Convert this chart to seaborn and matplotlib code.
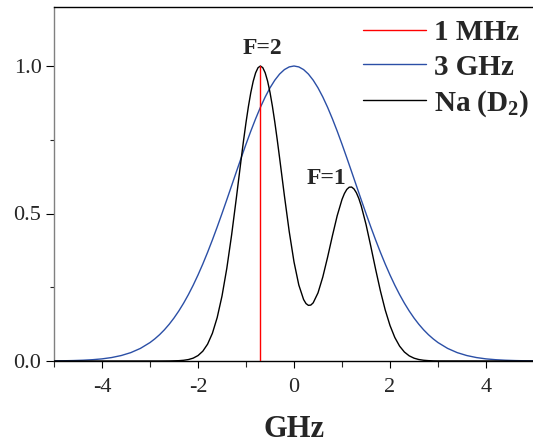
import numpy as np
import pandas as pd
import matplotlib
matplotlib.use("Agg")
import matplotlib.pyplot as plt
import seaborn as sns
from matplotlib.ticker import MultipleLocator

# ---- data ----
# Doppler profile, 3 GHz FWHM (blue)
doppler_x = [-5.0, -4.8, -4.6, -4.4, -4.2, -4.0, -3.8, -3.6, -3.4, -3.2, -3.0,
             -2.9, -2.8, -2.7, -2.6, -2.5, -2.4, -2.3, -2.2, -2.1, -2.0,
             -1.9, -1.8, -1.7, -1.6, -1.5, -1.4, -1.3, -1.2, -1.1, -1.0,
             -0.9, -0.8, -0.7, -0.6, -0.5, -0.4, -0.3, -0.2, -0.1, 0.0,
             0.1, 0.2, 0.3, 0.4, 0.5, 0.6, 0.7, 0.8, 0.9, 1.0,
             1.1, 1.2, 1.3, 1.4, 1.5, 1.6, 1.7, 1.8, 1.9, 2.0,
             2.1, 2.2, 2.3, 2.4, 2.5, 2.6, 2.7, 2.8, 2.9, 3.0,
             3.2, 3.4, 3.6, 3.8, 4.0, 4.2, 4.4, 4.6, 4.8, 5.0]
doppler_y = [0.0005, 0.0008, 0.0015, 0.0026, 0.0044, 0.0072, 0.0117, 0.0185, 0.0284, 0.0427, 0.0625,
             0.0750, 0.0893, 0.1058, 0.1246, 0.1458, 0.1696, 0.1960, 0.2251, 0.2570, 0.2916,
             0.3288, 0.3685, 0.4105, 0.4544, 0.5000, 0.5467, 0.5942, 0.6417, 0.6888, 0.7349,
             0.7792, 0.8210, 0.8599, 0.8950, 0.9259, 0.9519, 0.9727, 0.9878, 0.9969, 1.0000,
             0.9969, 0.9878, 0.9727, 0.9519, 0.9259, 0.8950, 0.8599, 0.8210, 0.7792, 0.7349,
             0.6888, 0.6417, 0.5942, 0.5467, 0.5000, 0.4544, 0.4105, 0.3685, 0.3288, 0.2916,
             0.2570, 0.2251, 0.1960, 0.1696, 0.1458, 0.1246, 0.1058, 0.0893, 0.0750, 0.0625,
             0.0427, 0.0284, 0.0185, 0.0117, 0.0072, 0.0044, 0.0026, 0.0015, 0.0008, 0.0005]

# Na D2 hyperfine profile (black)
na_x = [-5.0, -2.8, -2.6, -2.4, -2.3, -2.2, -2.1, -2.0, -1.9, -1.8, -1.7, -1.6, -1.5,
        -1.4, -1.3, -1.2, -1.15, -1.1, -1.05, -1.0, -0.95, -0.9, -0.85, -0.8, -0.75, -0.7,
        -0.65, -0.6, -0.55, -0.5, -0.45, -0.4, -0.35, -0.3,
        -0.2, -0.1, 0.0, 0.1, 0.2, 0.25, 0.3, 0.35, 0.4, 0.5, 0.6, 0.7, 0.8, 0.9,
        1.0, 1.05, 1.1, 1.15, 1.2, 1.25, 1.3, 1.35, 1.4, 1.5, 1.6, 1.7, 1.8, 1.9, 2.0, 2.1,
        2.2, 2.3, 2.4, 2.5, 2.6, 2.7, 2.8, 2.9, 3.0, 5.0]
na_y = [0.0, 0.0, 0.0002, 0.0011, 0.0024, 0.0049, 0.0097, 0.0184, 0.0332, 0.0572, 0.0940, 0.1474, 0.2202,
        0.3140, 0.4270, 0.5538, 0.6196, 0.6851, 0.7486, 0.8083, 0.8626, 0.9098, 0.9482, 0.9766, 0.9941, 1.0000,
        0.9943, 0.9769, 0.9487, 0.9106, 0.8637, 0.8099, 0.7509, 0.6884,
        0.5603, 0.4393, 0.3359, 0.2577, 0.2083, 0.1947, 0.1886, 0.1896, 0.1972, 0.2310, 0.2848, 0.3519, 0.4243, 0.4926,
        0.5476, 0.5676, 0.5817, 0.5891, 0.5897, 0.5832, 0.5702, 0.5511, 0.5262, 0.4632, 0.3888, 0.3113, 0.2378, 0.1732, 0.1204, 0.0798,
        0.0504, 0.0304, 0.0175, 0.0096, 0.0050, 0.0025, 0.0012, 0.0005, 0.0002, 0.0]

# 1 MHz laser line (red)
laser_x = [-0.70, -0.70]
laser_y = [0.0, 1.0]

labels = ["1 MHz", "3 GHz", "Na (D$_2$)"]
annot_text = ["F=2", "F=1"]
annot_x = [-0.65, 0.67]
annot_y = [1.061, 0.617]

x_ticks = [-4, -2, 0, 2, 4]
y_ticks = [0.0, 0.5, 1.0]

# ---- style ----
sns.set_style("ticks")
plt.rcParams["font.family"] = ["Liberation Serif", "DejaVu Serif"]
plt.rcParams["mathtext.fontset"] = "custom"
plt.rcParams["mathtext.rm"] = "Liberation Serif:bold"
plt.rcParams["mathtext.it"] = "Liberation Serif:bold"
plt.rcParams["mathtext.bf"] = "Liberation Serif:bold"

fig = plt.figure(figsize=(5.33, 4.43), dpi=100)
ax = fig.add_axes([54 / 533, 82 / 443, 480 / 533, 354 / 443])

df_laser = pd.DataFrame({"x": laser_x, "y": laser_y})
df_dop = pd.DataFrame({"x": doppler_x, "y": doppler_y})
df_na = pd.DataFrame({"x": na_x, "y": na_y})

sns.lineplot(data=df_laser, x="x", y="y", ax=ax, color="#ff0000", lw=1.0,
             estimator=None, sort=False, label=labels[0], zorder=4)
sns.lineplot(data=df_dop, x="x", y="y", ax=ax, color="#2b4fa6", lw=1.0,
             estimator=None, label=labels[1], zorder=2)
sns.lineplot(data=df_na, x="x", y="y", ax=ax, color="#000000", lw=1.0,
             estimator=None, label=labels[2], zorder=3)

for t, tx, ty in zip(annot_text, annot_x, annot_y):
    ax.text(tx, ty, t, ha="center", va="center", fontsize=17, fontweight="bold")

ax.set_xlim(-5, 5)
ax.set_ylim(0, 1.2)
ax.set_xticks(x_ticks)
ax.set_xticklabels([str(v) for v in x_ticks])
ax.set_yticks(y_ticks)
ax.set_yticklabels([f"{v:.1f}" for v in y_ticks])
ax.xaxis.set_minor_locator(MultipleLocator(1))
ax.yaxis.set_minor_locator(MultipleLocator(0.25))
ax.tick_params(axis="both", which="major", labelsize=16, color="black", width=0.8)
ax.tick_params(axis="x", which="major", length=5, pad=7, direction="out")
ax.tick_params(axis="y", which="major", length=6, pad=3, direction="out")
ax.tick_params(axis="x", which="minor", length=4, width=0.8, direction="out")
ax.tick_params(axis="y", which="minor", length=3, width=0.8, direction="out")

ax.set_xlabel("GHz", fontsize=22, fontweight="bold", labelpad=13)
ax.set_ylabel("")

for s in ["top", "bottom"]:
    ax.spines[s].set_color("black")
    ax.spines[s].set_linewidth(1.0)
ax.spines["left"].set_color("#808080")
ax.spines["left"].set_linewidth(1.0)
ax.spines["right"].set_visible(False)
ax.spines["top"].set_visible(True)

leg = ax.legend(loc="upper right", bbox_to_anchor=(529 / 533, 1 - 19 / 443),
                bbox_transform=fig.transFigure, frameon=False,
                prop={"family": "Liberation Serif", "weight": "bold", "size": 21},
                handlelength=2.15, handletextpad=0.28, labelspacing=0.26,
                borderaxespad=0, borderpad=0)

fig.savefig("out.png", dpi=100)
